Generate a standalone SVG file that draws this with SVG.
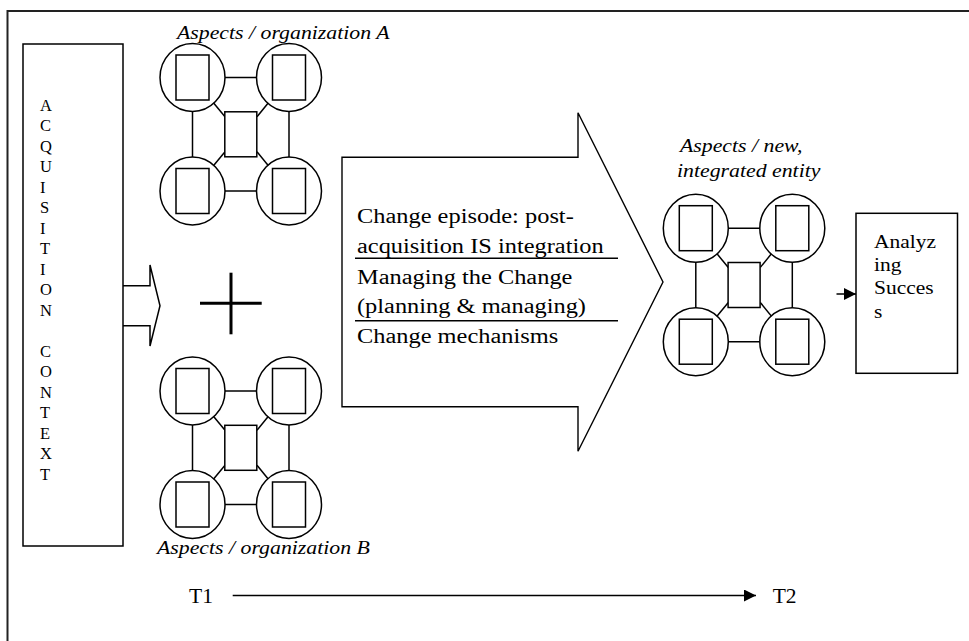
<svg xmlns="http://www.w3.org/2000/svg" xmlns:xlink="http://www.w3.org/1999/xlink" width="969" height="641" viewBox="0 0 969 641">
  <style>
    .frame { fill: none; stroke: #222; stroke-width: 2; }
    .box { fill: #fff; stroke: #000; stroke-width: 1.5; }
    .edge { fill: none; stroke: #000; stroke-width: 1.5; }
    .thin { fill: none; stroke: #000; stroke-width: 1.4; }
    .serif { font-family: "Liberation Serif", "Times New Roman", serif; fill: #000; }
    .big { font-size: 21.6px; }
    .label { font-size: 19.3px; font-style: italic; }
    .letter { font-size: 16.5px; }
    .small { font-size: 19px; }
    .time { font-size: 21.5px; }
  </style>
  <defs>
    <marker id="head" viewBox="0 0 10 10" refX="10" refY="5" markerWidth="8.5" markerHeight="8" orient="auto">
      <path d="M0,0 L10,5 L0,10 z" fill="#000"/>
    </marker>
    <!-- one "aspects" cluster: four circled items around a central item, origin = top-left circle centre -->
    <g id="cluster">
      <g class="edge">
        <line x1="0" y1="0" x2="96.5" y2="0"/>
        <line x1="0" y1="113.5" x2="96.5" y2="113.5"/>
        <line x1="0" y1="0" x2="0" y2="113.5"/>
        <line x1="96.5" y1="0" x2="96.5" y2="113.5"/>
        <line x1="0" y1="0" x2="32.5" y2="39.2"/>
        <line x1="96.5" y1="0" x2="64.5" y2="39.2"/>
        <line x1="0" y1="113.5" x2="32.5" y2="74.3"/>
        <line x1="96.5" y1="113.5" x2="64.5" y2="74.3"/>
      </g>
      <g class="box">
        <ellipse cx="0" cy="0" rx="32.5" ry="34"/>
        <ellipse cx="96.5" cy="0" rx="32.5" ry="34"/>
        <ellipse cx="0" cy="113.5" rx="32.5" ry="34"/>
        <ellipse cx="96.5" cy="113.5" rx="32.5" ry="34"/>
        <rect x="-16.5" y="-22.5" width="33" height="45"/>
        <rect x="80" y="-22.5" width="33" height="45"/>
        <rect x="-16.5" y="91" width="33" height="45"/>
        <rect x="80" y="91" width="33" height="45"/>
        <rect x="32.3" y="34.3" width="32" height="45"/>
      </g>
    </g>
  </defs>

  <rect width="969" height="641" fill="#fff"/>

  <!-- outer frame (top and left edges) -->
  <path class="frame" d="M7.5,641 V11 H969"/>

  <!-- connectors -->
  <g id="connectors">
    <path id="context-arrow" class="edge" d="M123,285.7 H150 V265 L160,305.7 L150,346 V325.7 H123"/>
    <line id="to-success" class="edge" x1="836.5" y1="294" x2="856" y2="294" marker-end="url(#head)"/>
    <line id="timeline" class="edge" x1="232.7" y1="595.5" x2="756" y2="595.5" marker-end="url(#head)"/>
  </g>

  <!-- acquisition context -->
  <g id="acquisition-context">
    <rect class="box" x="23" y="44" width="100" height="502"/>
    <g class="serif letter">
      <text x="40" y="110.5">A</text>
      <text x="40" y="131">C</text>
      <text x="40" y="151.5">Q</text>
      <text x="40" y="172">U</text>
      <text x="40" y="192.5">I</text>
      <text x="40" y="213">S</text>
      <text x="40" y="233.5">I</text>
      <text x="40" y="254">T</text>
      <text x="40" y="274.5">I</text>
      <text x="40" y="295">O</text>
      <text x="40" y="315.5">N</text>
      <text x="40" y="356.5">C</text>
      <text x="40" y="377">O</text>
      <text x="40" y="397.5">N</text>
      <text x="40" y="418">T</text>
      <text x="40" y="438.5">E</text>
      <text x="40" y="459">X</text>
      <text x="40" y="479.5">T</text>
    </g>
  </g>

  <!-- organization A -->
  <g id="org-a">
    <text class="serif label" transform="translate(177,39) scale(1.13,1)">Aspects / organization A</text>
    <use xlink:href="#cluster" href="#cluster" x="192.5" y="77.5"/>
  </g>

  <!-- plus sign -->
  <g id="plus" stroke="#000" stroke-width="3">
    <line x1="200" y1="303.3" x2="261.7" y2="303.3"/>
    <line x1="231" y1="272.7" x2="231" y2="334.3"/>
  </g>

  <!-- organization B -->
  <g id="org-b">
    <use xlink:href="#cluster" href="#cluster" x="192.5" y="391"/>
    <text class="serif label" transform="translate(157,554) scale(1.13,1)">Aspects / organization B</text>
  </g>

  <!-- change episode arrow -->
  <g id="change-episode">
    <path class="thin" fill="#fff" d="M342,157.3 H578 V112.7 L663,282 L578,451.3 V406.7 H342 Z"/>
    <line class="thin" x1="355" y1="258.3" x2="618" y2="258.3"/>
    <line class="thin" x1="355" y1="320.7" x2="618" y2="320.7"/>
    <g class="serif big">
      <text transform="translate(357,223) scale(1.13,1)">Change episode: post-</text>
      <text transform="translate(357,252.5) scale(1.13,1)">acquisition IS integration</text>
      <text transform="translate(357,284) scale(1.13,1)">Managing the Change</text>
      <text transform="translate(357,313) scale(1.13,1)">(planning &amp; managing)</text>
      <text transform="translate(357,343) scale(1.13,1)">Change mechanisms</text>
    </g>
  </g>

  <!-- new, integrated entity -->
  <g id="new-entity">
    <text class="serif label" transform="translate(680,152) scale(1.13,1)">Aspects / new,</text>
    <text class="serif label" transform="translate(677,177) scale(1.13,1)">integrated entity</text>
    <use xlink:href="#cluster" href="#cluster" x="695.8" y="228.2"/>
  </g>

  <!-- analyzing success -->
  <g id="analyzing-success">
    <rect class="box" x="856" y="213.3" width="101.5" height="160"/>
    <g class="serif small">
      <text transform="translate(874,248.3) scale(1.13,1)">Analyz</text>
      <text transform="translate(874,271.3) scale(1.13,1)">ing</text>
      <text transform="translate(874,294.3) scale(1.13,1)">Succes</text>
      <text transform="translate(874,317.5) scale(1.13,1)">s</text>
    </g>
  </g>

  <!-- time axis labels -->
  <g id="t1"><text class="serif time" x="189" y="602.7">T1</text></g>
  <g id="t2"><text class="serif time" x="772.7" y="603.3">T2</text></g>
</svg>
